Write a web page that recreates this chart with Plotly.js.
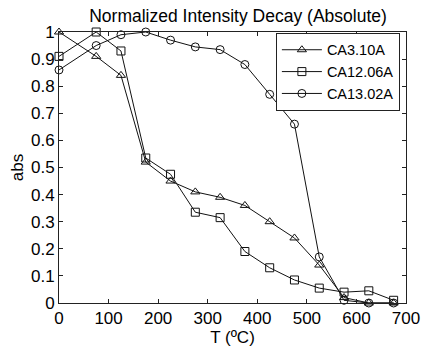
<!DOCTYPE html>
<html><head><meta charset="utf-8">
<script src="https://cdn.plot.ly/plotly-3.0.1.min.js"></script>
<style>html,body{margin:0;padding:0;background:#fff}#chart{width:425px;height:347px}</style>
</head><body><div id="chart"></div>
<script>
const temps = [0, 75, 125, 175, 225, 275, 325, 375, 425, 475, 525, 575, 625, 675];
const ca310 = [1.0, 0.91, 0.84, 0.52, 0.45, 0.41, 0.39, 0.36, 0.30, 0.24, 0.14, 0.02, 0.0, 0.0];
const ca1206 = [0.91, 1.0, 0.93, 0.535, 0.475, 0.335, 0.315, 0.19, 0.13, 0.085, 0.055, 0.04, 0.045, 0.01];
const ca1302 = [0.86, 0.95, 0.99, 1.0, 0.97, 0.945, 0.935, 0.88, 0.77, 0.66, 0.17, 0.01, 0.0, 0.0];
const names = ['CA3.10A', 'CA12.06A', 'CA13.02A'];
const symbols = ['triangle-up-open', 'square-open', 'circle-open'];
const series = [ca310, ca1206, ca1302];

const traces = series.map((ys, i) => ({
  x: temps, y: ys, name: names[i], type: 'scatter', mode: 'lines+markers',
  cliponaxis: false,
  line: {color: '#111', width: 1},
  marker: {symbol: symbols[i], size: 8, color: '#111', line: {width: 1, color: '#111'}}
}));

const FONT = 'Liberation Sans, Arial, sans-serif';
const axisCommon = {
  showline: true, mirror: 'allticks', linecolor: '#222', linewidth: 1,
  ticks: 'inside', ticklen: 4, tickcolor: '#222', showgrid: false, zeroline: false,
  tickfont: {family: FONT, size: 17, color: '#000'}
};

const layout = {
  width: 425, height: 347,
  margin: {l: 59, r: 19, t: 32, b: 44},
  paper_bgcolor: '#fff', plot_bgcolor: '#fff',
  font: {family: FONT, color: '#000'},
  title: {text: 'Normalized Intensity Decay (Absolute)', font: {size: 17.5},
    x: 0.56, xanchor: 'center', y: 0.972, yanchor: 'top'},
  xaxis: Object.assign({}, axisCommon, {range: [0, 700], dtick: 100, tick0: 0,
    title: {text: 'T (ºC)', font: {size: 17}, standoff: 2}}),
  yaxis: Object.assign({}, axisCommon, {range: [0, 1], dtick: 0.1, tick0: 0,
    title: {text: 'abs', font: {size: 17}, standoff: 3}}),
  showlegend: true,
  legend: {x: 0.625, xanchor: 'left', y: 0.997, yanchor: 'top', bgcolor: '#fff',
    bordercolor: '#222', borderwidth: 1, font: {size: 14.5}, tracegroupgap: 0,
    itemwidth: 40}
};

Plotly.newPlot('chart', traces, layout, {staticPlot: true, displayModeBar: false});
</script></body></html>
